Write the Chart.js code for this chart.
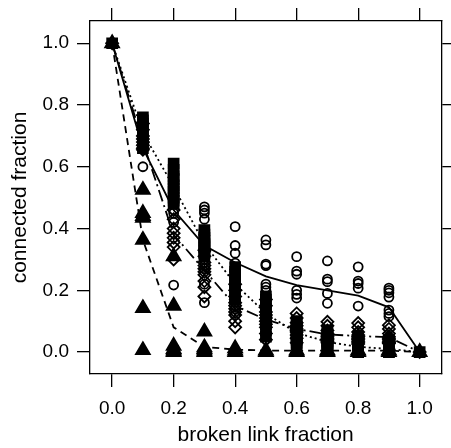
<!DOCTYPE html>
<html lang="en">
<head>
<meta charset="UTF-8">
<title>connected fraction</title>
<script src="https://cdn.jsdelivr.net/npm/chart.js"></script>
<style>
  body { margin: 0; background: #fff; }
  #wrap { width: 451px; height: 448px; }
</style>
</head>
<body>
<div id="wrap"><canvas id="myChart" width="451" height="448"></canvas></div>
<script>
// x positions of the runs and the labelled ticks
const fractions = [0.0, 0.1, 0.2, 0.3, 0.4, 0.5, 0.6, 0.7, 0.8, 0.9, 1.0];
const tickValues = [0.0, 0.2, 0.4, 0.6, 0.8, 1.0];

// open circles + solid line
const circlePoints = [
  [1.0],
  [0.60, 0.66, 0.67, 0.68, 0.70],
  [0.58, 0.55, 0.52, 0.50, 0.48, 0.45, 0.42, 0.217],
  [0.47, 0.46, 0.45, 0.43, 0.36, 0.33, 0.30, 0.27, 0.22, 0.16],
  [0.406, 0.345, 0.32, 0.288, 0.27, 0.25, 0.23, 0.14, 0.12],
  [0.363, 0.347, 0.285, 0.28, 0.22, 0.21, 0.20],
  [0.309, 0.262, 0.252, 0.2, 0.187, 0.175],
  [0.295, 0.236, 0.228, 0.19, 0.158],
  [0.276, 0.23, 0.222, 0.207, 0.149],
  [0.207, 0.2, 0.192, 0.178, 0.136, 0.125, 0.115],
  [0.0]
];
const circleLine = [1.0, 0.66, 0.46, 0.345, 0.29, 0.245, 0.217, 0.2, 0.183, 0.145, 0.0];

// filled squares + dotted line
const squarePoints = [
  [1.0],
  [0.76, 0.75, 0.74, 0.73, 0.72, 0.70, 0.69, 0.68, 0.67, 0.66],
  [0.61, 0.59, 0.57, 0.56, 0.54, 0.53, 0.52, 0.50, 0.49, 0.48],
  [0.395, 0.38, 0.37, 0.36, 0.35, 0.345, 0.34, 0.33, 0.32, 0.31],
  [0.275, 0.26, 0.25, 0.235, 0.225, 0.215, 0.2, 0.19, 0.18, 0.17],
  [0.18, 0.17, 0.16, 0.14, 0.13, 0.12, 0.10, 0.09, 0.07, 0.05],
  [0.1, 0.09, 0.08, 0.07, 0.065, 0.06, 0.05, 0.04, 0.03, 0.025],
  [0.07, 0.06, 0.045, 0.04, 0.035, 0.03, 0.025, 0.02, 0.01, 0.005],
  [0.05, 0.035, 0.025, 0.02, 0.015, 0.01, 0.008, 0.005, 0.003, 0.0],
  [0.04, 0.025, 0.015, 0.01, 0.008, 0.005, 0.003, 0.002, 0.001, 0.0],
  [0.0]
];
const squareLine = [1.0, 0.71, 0.535, 0.35, 0.22, 0.125, 0.062, 0.033, 0.017, 0.01, 0.0];

// open diamonds + dot-dash line
const diamondPoints = [
  [1.0],
  [0.74, 0.72, 0.70, 0.69, 0.68, 0.67, 0.66, 0.655],
  [0.46, 0.43, 0.40, 0.385, 0.37, 0.355, 0.34, 0.30],
  [0.33, 0.31, 0.29, 0.28, 0.27, 0.26, 0.25, 0.23, 0.21, 0.18],
  [0.22, 0.2, 0.18, 0.16, 0.15, 0.14, 0.13, 0.12, 0.1, 0.08],
  [0.17, 0.15, 0.13, 0.12, 0.11, 0.1, 0.09, 0.08, 0.06, 0.04],
  [0.125, 0.11, 0.095, 0.085, 0.075, 0.07, 0.065, 0.055, 0.045, 0.03],
  [0.098, 0.085, 0.07, 0.06, 0.055, 0.05, 0.045, 0.04, 0.035, 0.03],
  [0.094, 0.08, 0.065, 0.055, 0.05, 0.045, 0.04, 0.035, 0.03, 0.026],
  [0.087, 0.075, 0.06, 0.05, 0.045, 0.04, 0.035, 0.03, 0.03, 0.028],
  [0.0]
];
const diamondLine = [1.0, 0.68, 0.38, 0.265, 0.15, 0.105, 0.075, 0.057, 0.052, 0.048, 0.0];

// filled triangles + dashed line
const trianglePoints = [
  [1.0],
  [0.525, 0.45, 0.44, 0.435, 0.363, 0.142, 0.006],
  [0.31, 0.15, 0.02, 0.01, 0.005, 0.0],
  [0.066, 0.015, 0.01, 0.005, 0.0],
  [0.012, 0.005, 0.0],
  [0.005, 0.0],
  [0.005, 0.0],
  [0.005, 0.0],
  [0.005, 0.0],
  [0.005, 0.0],
  [0.0]
];
const triangleLine = [1.0, 0.363, 0.08, 0.017, 0.008, 0.005, 0.005, 0.005, 0.005, 0.005, 0.0];

const FONT = "'Liberation Sans', Arial, Helvetica, sans-serif";

function cloud(pts) {
  return fractions.flatMap((x, i) => pts[i].map(y => ({ x: x, y: y })));
}
function path(vals) {
  return fractions.map((x, i) => ({ x: x, y: vals[i] }));
}

function pointSet(pts, style, radius, filled) {
  return {
    data: cloud(pts),
    showLine: false,
    pointStyle: style,
    pointRadius: radius,
    pointBorderWidth: 1.8,
    pointBorderColor: '#000',
    pointBackgroundColor: filled ? '#000' : 'rgba(0,0,0,0)'
  };
}
function lineSet(vals, dash) {
  return {
    data: path(vals),
    showLine: true,
    borderColor: '#000',
    borderWidth: 1.8,
    borderDash: dash,
    pointRadius: 0,
    fill: false
  };
}

function axis(position, labels, size, min, max, title) {
  const horizontal = position === 'top' || position === 'bottom';
  return {
    type: 'linear',
    position: position,
    min: min,
    max: max,
    grid: { drawOnChartArea: false, drawTicks: true, tickLength: 13, color: '#000', lineWidth: 1.3 },
    border: { display: true, color: '#000', width: 1.3 },
    ticks: {
      display: labels,
      color: '#000',
      font: { family: FONT, size: 19 },
      padding: horizontal ? 10 : 8,
      maxRotation: 0,
      callback: v => v.toFixed(1)
    },
    title: title ? {
      display: true,
      text: title,
      color: '#000',
      font: { family: FONT, size: 21 },
      padding: horizontal ? { top: 0, bottom: 0 } : { top: 8, bottom: 0 }
    } : { display: false },
    afterBuildTicks: s => { s.ticks = tickValues.map(v => ({ value: v })); },
    afterFit: s => {
      if (horizontal) s.height = size; else s.width = size;
    }
  };
}

const ctx = document.getElementById('myChart').getContext('2d');
new Chart(ctx, {
  type: 'scatter',
  data: {
    datasets: [
      pointSet(circlePoints, 'circle', 4.5, false),
      pointSet(diamondPoints, 'rectRot', 6, false),
      pointSet(squarePoints, 'rect', 7, true),
      pointSet(trianglePoints, 'triangle', 8, true),
      lineSet(circleLine, []),
      lineSet(squareLine, [2, 3]),
      lineSet(diamondLine, [12, 4, 2, 4]),
      lineSet(triangleLine, [7, 5])
    ]
  },
  options: {
    responsive: false,
    animation: false,
    layout: { padding: 0 },
    plugins: { legend: { display: false }, tooltip: { enabled: false } },
    scales: {
      x: axis('bottom', true, 74, -0.072, 1.07, 'broken link fraction'),
      x2: axis('top', false, 21, -0.072, 1.07, null),
      y: axis('left', true, 90, -0.071, 1.072, 'connected fraction'),
      y2: axis('right', false, 7, -0.071, 1.072, null)
    }
  }
});
</script>
</body>
</html>
